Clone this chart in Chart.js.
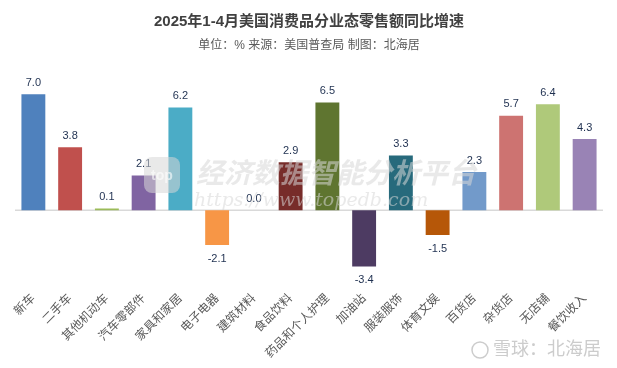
<!DOCTYPE html>
<html>
<head>
<meta charset="utf-8">
<script src="https://cdn.jsdelivr.net/npm/chart.js@4"></script>
<style>
  html, body { margin: 0; padding: 0; background: #fff; }
  #wrap { width: 617px; height: 368px; position: relative; }
</style>
</head>
<body>
<div id="wrap"><canvas id="myChart"></canvas></div>
<script>
const categories = ['新车', '二手车', '其他机动车', '汽车零部件', '家具和家居', '电子电器', '建筑材料', '食品饮料',
    '药品和个人护理', '加油站', '服装服饰', '体育文娱', '百货店', '杂货店', '无店铺', '餐饮收入'];
const growth = [7.0, 3.8, 0.1, 2.1, 6.2, -2.1, 0.0, 2.9, 6.5, -3.4, 3.3, -1.5, 2.3, 5.7, 6.4, 4.3];
const barColors = ['#4F81BD', '#C0504D', '#9BBB59', '#8064A2', '#4BACC6', '#F79646', '#2C4D75', '#772C2A',
    '#5F7530', '#4D3B62', '#276A7C', '#B65708', '#729ACA', '#CD7371', '#AFC97A', '#9983B5'];

const FONT = "'Liberation Sans', 'Noto Sans CJK SC', sans-serif";
const ctx = document.getElementById('myChart');

// zero line + value labels + watermarks
const extras = {
    id: 'extras',
    beforeDatasetsDraw(chart) {
        const c = chart.ctx;
        const y0 = chart.scales.y.getPixelForValue(0);
        c.save();
        c.strokeStyle = '#d9d9d9';
        c.lineWidth = 1.5;
        c.beginPath();
        c.moveTo(chart.chartArea.left, y0);
        c.lineTo(chart.chartArea.right, y0);
        c.stroke();
        c.restore();
    },
    afterDatasetsDraw(chart) {
        const c = chart.ctx;
        const meta = chart.getDatasetMeta(0);
        c.save();
        c.font = '11px ' + FONT;
        c.fillStyle = '#1F3050';
        c.textAlign = 'center';
        meta.data.forEach((bar, i) => {
            const v = growth[i];
            if (v >= 0) {
                c.textBaseline = 'bottom';
                c.fillText(v.toFixed(1), bar.x, bar.y - 6);
            } else {
                c.textBaseline = 'top';
                c.fillText(v.toFixed(1), bar.x, bar.y + 8);
            }
        });
        // watermark
        c.fillStyle = 'rgba(215,215,215,0.55)';
        c.font = 'italic bold 28px ' + FONT;
        c.textAlign = 'left';
        c.textBaseline = 'middle';
        c.fillText('经济数据智能分析平台', 196, 175);
        c.font = 'italic 19px "DejaVu Serif", serif';
        c.fillText('https://www.topedb.com', 194, 201);
        c.beginPath();
        c.roundRect(144, 157, 36, 36, 8);
        c.fill();
        c.fillStyle = 'rgba(255,255,255,0.6)';
        c.font = 'bold 14px ' + FONT;
        c.textAlign = 'center';
        c.fillText('top', 162, 176);
        // footer mark
        c.fillStyle = '#cccccc';
        c.font = '18px ' + FONT;
        c.textAlign = 'left';
        c.fillText('雪球：北海居', 493, 350);
        c.strokeStyle = '#cccccc';
        c.lineWidth = 1.5;
        c.beginPath();
        c.arc(480, 350, 8, 0, Math.PI * 2);
        c.stroke();
        c.restore();
    }
};

const myChart = new Chart(ctx, {
    type: 'bar',
    data: {
        labels: categories,
        datasets: [{
            label: '同比增速',
            data: growth,
            backgroundColor: barColors,
            borderWidth: 0,
            categoryPercentage: 0.65,
            barPercentage: 1.0
        }]
    },
    options: {
        responsive: true,
        maintainAspectRatio: false,
        animation: false,
        layout: { padding: { left: 15, right: 14, top: 0, bottom: 5 } },
        plugins: {
            legend: { display: false },
            tooltip: { enabled: false },
            title: {
                display: true,
                text: '2025年1-4月美国消费品分业态零售额同比增速',
                color: '#404040',
                font: { family: FONT, size: 15, weight: 'bold' },
                padding: { top: 13, bottom: 7 }
            },
            subtitle: {
                display: true,
                text: '单位：% 来源：美国普查局 制图：北海居',
                color: '#595959',
                font: { family: FONT, size: 12 },
                padding: { bottom: 22 }
            }
        },
        scales: {
            x: {
                grid: { display: false },
                border: { display: false },
                ticks: {
                    color: '#595959',
                    font: { family: FONT, size: 12 },
                    minRotation: 45,
                    maxRotation: 45,
                    autoSkip: false,
                    padding: 2
                }
            },
            y: {
                display: false,
                min: -4.3,
                max: 8.2
            }
        }
    },
    plugins: [extras]
});
</script>
</body>
</html>
